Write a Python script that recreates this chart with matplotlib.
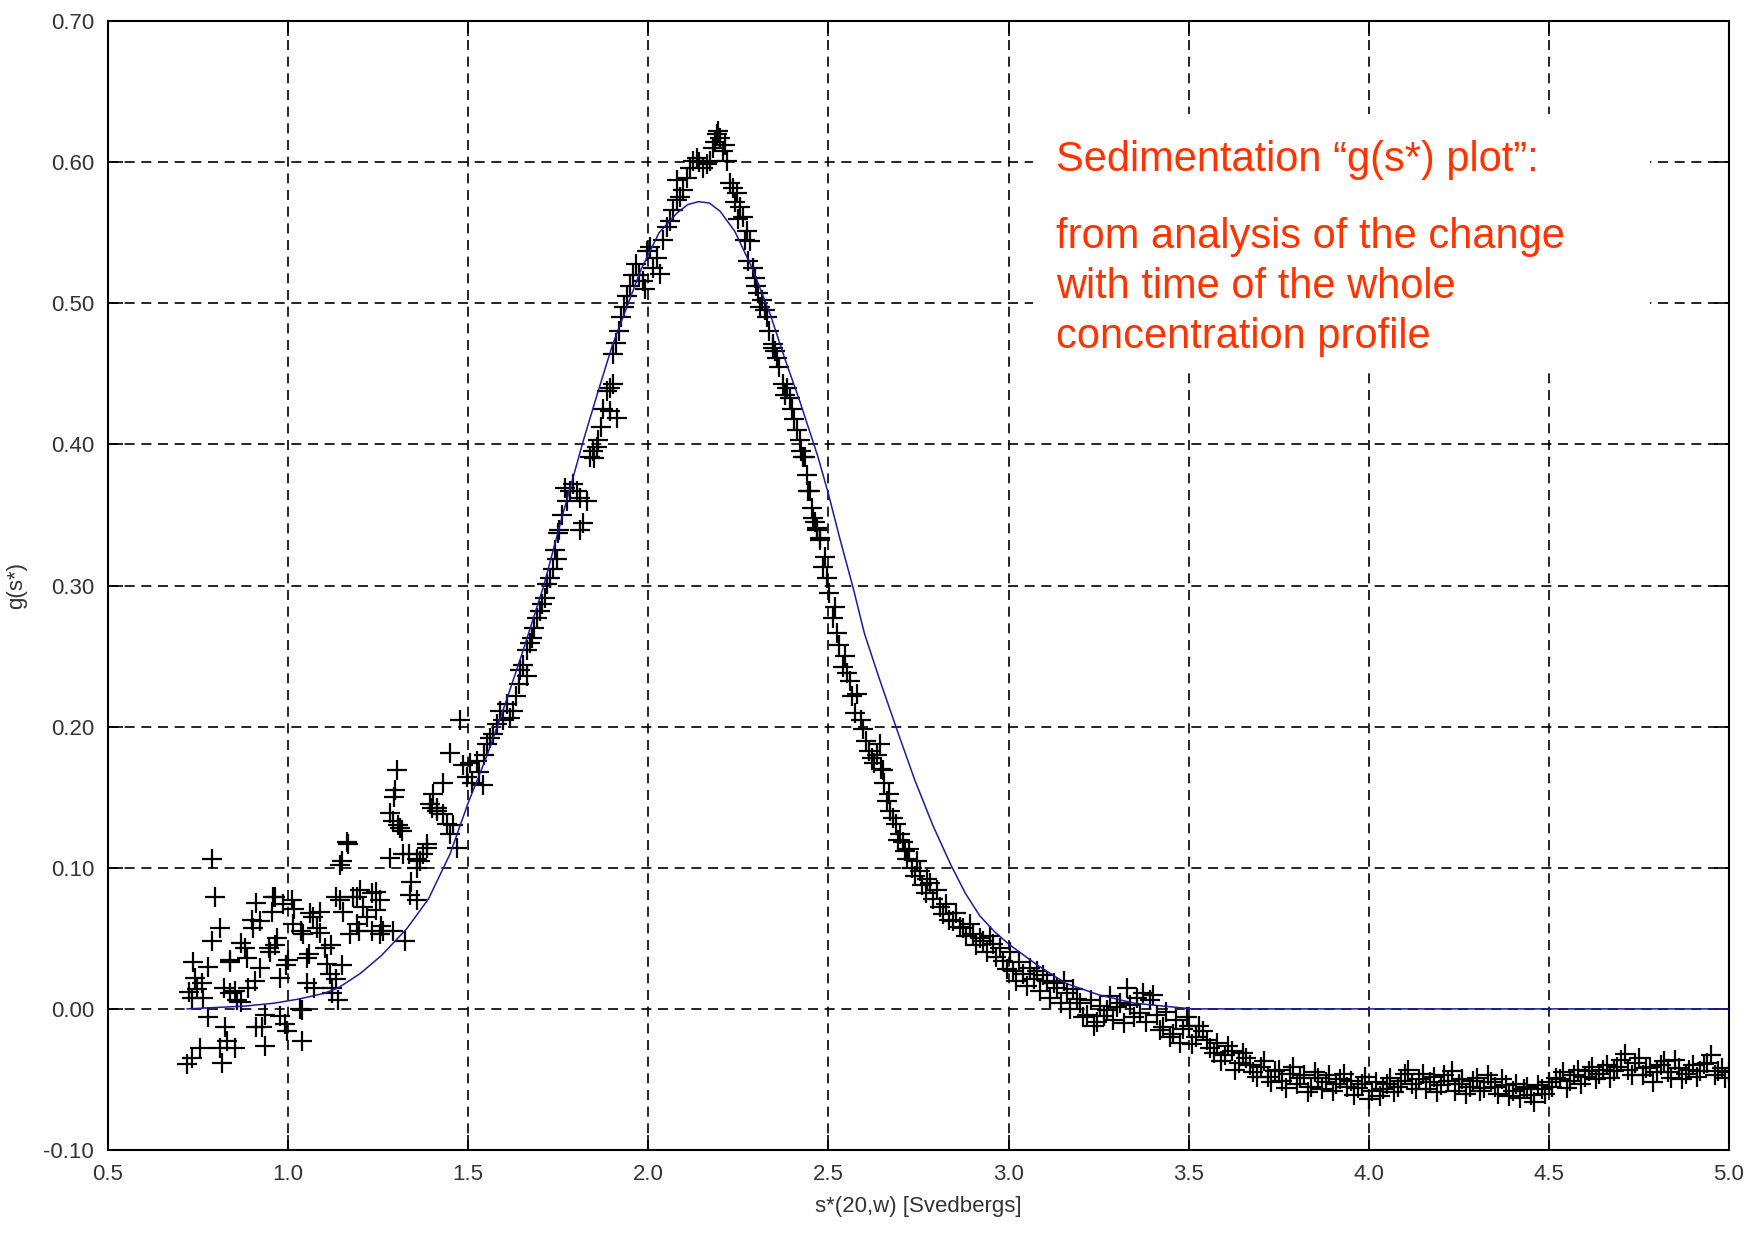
import numpy as np
import matplotlib.pyplot as plt
from matplotlib.patches import Rectangle

# fitted curve (blue)
fit_s = [0.72, 0.80, 0.88, 0.96, 1.03, 1.10, 1.14, 1.20, 1.26, 1.33, 1.39, 1.45,
         1.50, 1.55, 1.60, 1.65, 1.71, 1.76, 1.82, 1.86, 1.90, 1.94, 1.98, 2.03,
         2.08, 2.11, 2.14, 2.17, 2.20, 2.24, 2.29, 2.34, 2.38, 2.42, 2.47, 2.50,
         2.53, 2.57, 2.60, 2.64, 2.69, 2.74, 2.79, 2.84, 2.88, 2.92, 2.96, 3.00,
         3.08, 3.16, 3.25, 3.35, 3.43, 3.51, 5.00]
fit_g = [0.000, 0.001, 0.002, 0.004, 0.007, 0.011, 0.015, 0.025, 0.038, 0.057, 0.078, 0.110,
         0.146, 0.178, 0.214, 0.252, 0.300, 0.348, 0.403, 0.437, 0.470, 0.497, 0.524, 0.550,
         0.564, 0.570, 0.572, 0.571, 0.565, 0.551, 0.524, 0.491, 0.460, 0.431, 0.392, 0.365,
         0.335, 0.297, 0.266, 0.235, 0.198, 0.162, 0.130, 0.102, 0.082, 0.066, 0.055, 0.046,
         0.031, 0.018, 0.010, 0.004, 0.002, 0.000, 0.000]

# scatter data, left noisy part
left_s = [0.790, 0.797, 0.811, 0.789, 0.736, 0.778, 0.839, 0.742, 0.747, 0.733, 0.764, 0.778,
          0.755, 0.719, 0.733, 0.816, 0.811, 0.830, 0.852, 0.825, 0.858, 0.839, 0.852, 0.886,
          0.889, 0.908, 0.922, 0.880, 0.903, 0.922, 0.936, 0.927, 0.936, 0.955, 0.958, 0.969,
          0.964, 0.977, 0.991, 0.997, 0.986, 1.011, 1.014, 1.041, 1.033, 1.038, 1.038, 1.052,
          1.061, 1.069, 1.080, 1.052, 1.089, 1.108, 1.116, 1.122, 1.139, 1.150, 1.166, 1.144,
          1.152, 1.172, 1.180, 1.200, 1.208, 1.219, 1.233, 1.233, 1.255, 1.263, 1.255, 1.283,
          1.291, 1.305, 1.283, 1.319, 1.324, 1.358, 1.338, 1.358, 1.366, 1.374, 1.385, 1.394,
          1.413, 1.430, 1.302, 1.297, 1.294, 1.311, 1.402, 1.413, 1.386, 1.165, 1.144, 0.725,
          0.760, 0.870, 0.950, 1.000, 1.120, 1.190, 1.245, 1.340, 1.430,
          0.901, 0.963, 1.035, 1.088, 1.134, 1.190, 1.243, 1.197, 1.259, 1.290, 1.057, 1.103,
          1.150, 0.994, 0.948, 0.839, 0.870, 0.910, 1.016, 1.072, 1.122, 0.979, 0.911, 0.823,
          1.134, 1.315, 1.336, 1.358, 1.399]
left_g = [0.106, 0.079, 0.057, 0.048, 0.033, 0.030, 0.033, 0.022, 0.014, 0.008, 0.008, -0.006,
          -0.028, -0.039, -0.035, -0.038, -0.028, -0.023, -0.028, -0.013, 0.006, 0.011, 0.013, 0.036,
          0.015, 0.020, 0.029, 0.043, 0.057, 0.062, -0.004, -0.013, -0.026, 0.069, 0.079, 0.050,
          0.045, 0.022, -0.011, -0.016, 0.074, 0.077, 0.060, 0.053, 0.000, -0.001, -0.023, 0.036,
          0.068, 0.065, 0.057, 0.018, 0.054, 0.032, 0.025, 0.015, 0.006, 0.105, 0.117, 0.077,
          0.069, 0.053, 0.079, 0.084, 0.072, 0.065, 0.082, 0.055, 0.077, 0.055, 0.053, 0.139,
          0.133, 0.130, 0.107, 0.110, 0.048, 0.077, 0.081, 0.100, 0.105, 0.110, 0.117, 0.145,
          0.140, 0.138, 0.169, 0.155, 0.150, 0.128, 0.152, 0.142, 0.114, 0.118, 0.102, 0.012,
          0.018, 0.005, 0.040, 0.035, 0.045, 0.060, 0.070, 0.090, 0.160,
          0.063, 0.079, 0.055, 0.069, 0.079, 0.079, 0.083, 0.055, 0.059, 0.055, 0.039, 0.043,
          0.031, 0.031, 0.043, 0.035, 0.047, 0.075, 0.071, 0.015, 0.011, -0.005, -0.013, 0.015,
          0.021, 0.126, 0.110, 0.106, 0.142]

# rising side
rise_s = [1.449, 1.441, 1.458, 1.469, 1.477, 1.449, 1.486, 1.497, 1.505, 1.512, 1.524, 1.530,
          1.541, 1.545, 1.552, 1.561, 1.570, 1.580, 1.588, 1.597, 1.608, 1.616, 1.624, 1.632,
          1.640, 1.644, 1.652, 1.663, 1.663, 1.672, 1.677, 1.684, 1.691, 1.699, 1.705, 1.713,
          1.719, 1.727, 1.735, 1.747, 1.741, 1.749, 1.752, 1.760, 1.769, 1.774, 1.783, 1.791,
          1.802, 1.810, 1.810, 1.819, 1.830, 1.838, 1.847, 1.850, 1.858, 1.861, 1.868, 1.875,
          1.885, 1.894, 1.894, 1.902, 1.913, 1.902, 1.910, 1.918, 1.925, 1.932, 1.940, 1.950,
          1.958, 1.966, 1.975, 1.985, 1.990, 1.996, 2.005, 2.013, 2.024, 2.032, 2.040, 2.052,
          2.060, 2.069, 2.080, 2.088, 2.080, 2.095, 2.107, 2.116, 2.124, 2.135, 2.140, 2.152,
          2.163, 2.171, 2.180, 2.191, 2.186]
rise_g = [0.124, 0.131, 0.130, 0.114, 0.205, 0.181, 0.173, 0.164, 0.174, 0.160, 0.176, 0.168,
          0.159, 0.180, 0.188, 0.192, 0.195, 0.202, 0.211, 0.205, 0.216, 0.206, 0.211, 0.222,
          0.230, 0.240, 0.244, 0.254, 0.236, 0.259, 0.263, 0.270, 0.277, 0.282, 0.287, 0.291,
          0.301, 0.305, 0.312, 0.319, 0.325, 0.337, 0.339, 0.350, 0.369, 0.360, 0.367, 0.372,
          0.367, 0.362, 0.339, 0.344, 0.360, 0.391, 0.395, 0.390, 0.398, 0.403, 0.412, 0.425,
          0.438, 0.440, 0.424, 0.443, 0.419, 0.464, 0.472, 0.480, 0.490, 0.497, 0.505, 0.512,
          0.520, 0.528, 0.520, 0.516, 0.510, 0.537, 0.540, 0.525, 0.532, 0.521, 0.545, 0.554,
          0.558, 0.566, 0.573, 0.575, 0.587, 0.580, 0.589, 0.596, 0.601, 0.603, 0.600, 0.596,
          0.599, 0.601, 0.610, 0.620, 0.614]

# falling side
fall_s = [2.199, 2.194, 2.208, 2.219, 2.212, 2.227, 2.235, 2.240, 2.246, 2.250, 2.255, 2.263,
          2.268, 2.274, 2.282, 2.278, 2.290, 2.296, 2.300, 2.305, 2.310, 2.316, 2.324, 2.330,
          2.335, 2.346, 2.346, 2.352, 2.357, 2.362, 2.374, 2.380, 2.385, 2.393, 2.398, 2.405,
          2.413, 2.421, 2.425, 2.429, 2.435, 2.440, 2.443, 2.449, 2.454, 2.457, 2.462, 2.468,
          2.468, 2.477, 2.477, 2.485, 2.490, 2.496, 2.503, 2.513, 2.518, 2.524, 2.530, 2.540,
          2.545, 2.552]
fall_g = [0.617, 0.622, 0.608, 0.601, 0.612, 0.585, 0.582, 0.572, 0.578, 0.560, 0.568, 0.561,
          0.545, 0.551, 0.544, 0.530, 0.525, 0.518, 0.512, 0.507, 0.497, 0.502, 0.495, 0.490,
          0.480, 0.471, 0.468, 0.466, 0.461, 0.455, 0.443, 0.435, 0.440, 0.433, 0.425, 0.418,
          0.410, 0.403, 0.395, 0.391, 0.391, 0.378, 0.367, 0.367, 0.355, 0.348, 0.345, 0.341,
          0.339, 0.334, 0.332, 0.313, 0.320, 0.305, 0.295, 0.277, 0.285, 0.266, 0.258, 0.242,
          0.250, 0.238]

# shoulder
sh_s = [2.560, 2.565, 2.579, 2.575, 2.590, 2.596, 2.605, 2.612, 2.620, 2.627, 2.635, 2.643,
        2.645, 2.652, 2.655, 2.663, 2.668, 2.672, 2.679, 2.688, 2.692, 2.699, 2.706, 2.712,
        2.718, 2.725, 2.732, 2.740, 2.746, 2.754, 2.760, 2.770, 2.775, 2.782, 2.790, 2.801,
        2.810, 2.818, 2.826, 2.835, 2.846, 2.855, 2.864, 2.874, 2.883, 2.892, 2.901, 2.910,
        2.920, 2.929, 2.940, 2.948, 2.957, 2.966, 2.975, 2.985, 2.995, 3.003, 3.012, 3.022,
        3.030, 3.040, 3.050, 3.060, 3.070, 3.079, 3.088, 3.097, 3.107, 3.116, 3.125, 3.135,
        3.145, 3.153, 3.162, 3.172, 3.180, 3.190, 3.198, 3.208, 3.218, 3.228, 3.236, 3.246,
        3.255, 3.264, 3.273, 3.282, 3.291, 3.300, 3.310, 3.320, 3.329, 3.338, 3.347, 3.356,
        3.365, 3.373, 3.383, 3.393, 3.402, 3.411, 3.420, 3.429, 3.438, 3.447, 3.457, 3.466,
        3.475, 3.485, 3.496]
sh_g = [0.232, 0.222, 0.223, 0.210, 0.205, 0.198, 0.190, 0.183, 0.178, 0.174, 0.180, 0.188,
        0.170, 0.169, 0.160, 0.147, 0.152, 0.140, 0.135, 0.131, 0.120, 0.124, 0.118, 0.112,
        0.106, 0.113, 0.100, 0.094, 0.105, 0.098, 0.088, 0.082, 0.092, 0.089, 0.078, 0.084,
        0.072, 0.067, 0.074, 0.063, 0.062, 0.068, 0.058, 0.057, 0.052, 0.060, 0.053, 0.045,
        0.050, 0.048, 0.040, 0.052, 0.046, 0.037, 0.043, 0.034, 0.028, 0.040, 0.027, 0.020,
        0.033, 0.025, 0.016, 0.029, 0.021, 0.027, 0.013, 0.024, 0.020, 0.008, 0.018, 0.015,
        0.004, 0.020, 0.011, 0.000, 0.014, 0.007, 0.004, -0.006, -0.004, 0.006, -0.012, -0.009,
        0.002, -0.005, -0.001, 0.009, -0.008, 0.001, 0.004, -0.010, 0.015, 0.003, -0.006, 0.008,
        -0.003, 0.011, -0.009, 0.006, 0.010, -0.004, -0.015, -0.013, -0.002, -0.020, -0.018, -0.008,
        -0.024, -0.014, -0.006]

# tail, two interleaved rows
tail_a_s = [3.50, 3.52, 3.54, 3.56, 3.58, 3.60, 3.62, 3.64, 3.66, 3.68, 3.70, 3.72, 3.74, 3.76,
            3.78, 3.80, 3.82, 3.84, 3.86, 3.88, 3.90, 3.92, 3.94, 3.96, 3.98, 4.00, 4.02, 4.04,
            4.06, 4.08, 4.10, 4.12, 4.14, 4.16, 4.18, 4.20, 4.22, 4.24, 4.26, 4.28, 4.30, 4.32,
            4.34, 4.36, 4.38, 4.40, 4.42, 4.44, 4.46, 4.48, 4.50, 4.52, 4.54, 4.56, 4.58, 4.60,
            4.62, 4.64, 4.66, 4.68, 4.70, 4.72, 4.74, 4.76, 4.78, 4.80, 4.82, 4.84, 4.86, 4.88,
            4.90, 4.92, 4.94, 4.96, 4.98, 5.00]
tail_a_g = [-0.012, -0.020, -0.016, -0.028, -0.024, -0.033, -0.030, -0.038, -0.035, -0.045,
            -0.041, -0.048, -0.044, -0.051, -0.046, -0.053, -0.047, -0.055, -0.049, -0.052,
            -0.058, -0.050, -0.055, -0.061, -0.053, -0.064, -0.052, -0.057, -0.049, -0.055,
            -0.046, -0.053, -0.050, -0.057, -0.048, -0.054, -0.051, -0.058, -0.050, -0.055,
            -0.049, -0.056, -0.052, -0.060, -0.054, -0.058, -0.063, -0.055, -0.066, -0.057,
            -0.052, -0.049, -0.045, -0.051, -0.043, -0.048, -0.041, -0.046, -0.040, -0.044,
            -0.036, -0.043, -0.038, -0.047, -0.041, -0.045, -0.037, -0.049, -0.042, -0.046,
            -0.040, -0.044, -0.038, -0.047, -0.042, -0.045]
tail_b_s = [3.51, 3.53, 3.55, 3.57, 3.59, 3.61, 3.63, 3.65, 3.67, 3.69, 3.71, 3.73, 3.75, 3.77,
            3.79, 3.81, 3.83, 3.85, 3.87, 3.89, 3.91, 3.93, 3.95, 3.97, 3.99, 4.01, 4.03, 4.05,
            4.07, 4.09, 4.11, 4.13, 4.15, 4.17, 4.19, 4.21, 4.23, 4.25, 4.27, 4.29, 4.31, 4.33,
            4.35, 4.37, 4.39, 4.41, 4.43, 4.45, 4.47, 4.49, 4.51, 4.53, 4.55, 4.57, 4.59, 4.61,
            4.63, 4.65, 4.67, 4.69, 4.71, 4.73, 4.75, 4.77, 4.79, 4.81, 4.83, 4.85, 4.87, 4.89,
            4.91, 4.93, 4.95, 4.97, 4.99]
tail_b_g = [-0.025, -0.012, -0.022, -0.031, -0.037, -0.026, -0.043, -0.031, -0.040, -0.048,
            -0.037, -0.052, -0.043, -0.056, -0.041, -0.049, -0.059, -0.045, -0.057, -0.047,
            -0.053, -0.046, -0.051, -0.056, -0.048, -0.058, -0.062, -0.053, -0.059, -0.051,
            -0.043, -0.057, -0.046, -0.052, -0.059, -0.047, -0.044, -0.053, -0.060, -0.051,
            -0.058, -0.047, -0.055, -0.050, -0.062, -0.053, -0.057, -0.061, -0.054, -0.060,
            -0.055, -0.050, -0.056, -0.047, -0.053, -0.044, -0.050, -0.043, -0.049, -0.041,
            -0.032, -0.047, -0.035, -0.042, -0.052, -0.040, -0.045, -0.036, -0.050, -0.043,
            -0.048, -0.039, -0.033, -0.044, -0.049]

xticks = [0.5, 1.0, 1.5, 2.0, 2.5, 3.0, 3.5, 4.0, 4.5, 5.0]
yticks = [-0.10, 0.00, 0.10, 0.20, 0.30, 0.40, 0.50, 0.60, 0.70]

plt.rcParams['font.family'] = ['Liberation Sans', 'DejaVu Sans']

fig = plt.figure(figsize=(17.58, 12.35), dpi=100)
ax = fig.add_axes([0.0614, 0.0688, 0.9221, 0.9142])

pts_s = left_s + rise_s + fall_s + sh_s + tail_a_s + tail_b_s
pts_g = left_g + rise_g + fall_g + sh_g + tail_a_g + tail_b_g
ax.plot(pts_s, pts_g, '+', color='black', markersize=15, markeredgewidth=1.6, zorder=2)
ax.plot(fit_s, fit_g, '-', color='#1c1c9c', linewidth=1.1, zorder=3)

ax.set_xlim(0.5, 5.0)
ax.set_ylim(-0.1, 0.7)
ax.set_xticks(xticks)
ax.set_xticklabels(['%.1f' % v for v in xticks])
ax.set_yticks(yticks)
ax.set_yticklabels(['%.2f' % v for v in yticks])
ax.tick_params(direction='in', length=11, width=1.2, top=True, right=True,
               labelsize=16, labelcolor='#333333', pad=10)
for sp in ax.spines.values():
    sp.set_linewidth(1.5)
ax.set_axisbelow(True)
ax.grid(True, color='black', linestyle=(0, (6, 4)), linewidth=1.2)

ax.set_xlabel('s*(20,w) [Svedbergs]', fontsize=16, color='#333333', labelpad=8)
ax.set_ylabel('g(s*)', fontsize=16, color='#333333', labelpad=12)

# white note box
ax.add_patch(Rectangle((3.068, 0.454), 1.713, 0.180, facecolor='white',
                       edgecolor='none', zorder=1))
red = '#ff3300'
ax.text(3.132, 0.594, 'Sedimentation \u201cg(s*) plot\u201d:', color=red,
        fontsize=30, va='baseline', zorder=4)
ax.text(3.132, 0.539, 'from analysis of the change', color=red,
        fontsize=30, va='baseline', zorder=4)
ax.text(3.132, 0.504, 'with time of the whole', color=red,
        fontsize=30, va='baseline', zorder=4)
ax.text(3.132, 0.468, 'concentration profile', color=red,
        fontsize=30, va='baseline', zorder=4)

plt.savefig('out.png', dpi=100)
